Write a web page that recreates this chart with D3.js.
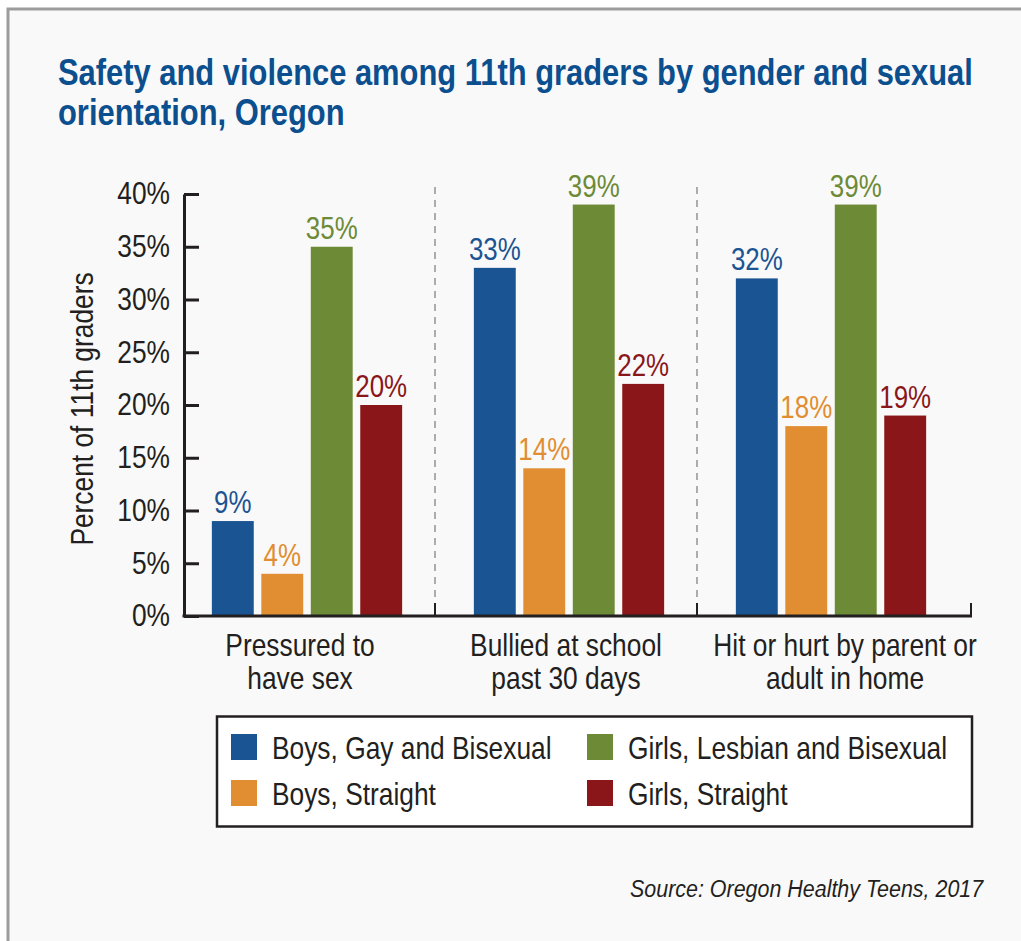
<!DOCTYPE html>
<html><head><meta charset="utf-8">
<script src="https://cdn.jsdelivr.net/npm/d3@7"></script>
<style>
html,body{margin:0;padding:0;background:#fff;}
svg{display:block;}
text{font-family:"Liberation Sans",Arial,Helvetica,sans-serif;}
</style></head>
<body>
<script>
const categories = [["Pressured to","have sex"],["Bullied at school","past 30 days"],["Hit or hurt by parent or","adult in home"]];
const seriesNames = ["Boys, Gay and Bisexual","Boys, Straight","Girls, Lesbian and Bisexual","Girls, Straight"];
const boysGayBi = [9,33,32];
const boysStraight = [4,14,18];
const girlsLesBi = [35,39,39];
const girlsStraight = [20,22,19];
const yTicks = [0,5,10,15,20,25,30,35,40];
const colors = ["#1b5492","#e08e31","#6d8a36","#8a1619"];
const title = ["Safety and violence among 11th graders by gender and sexual","orientation, Oregon"];
const yLabel = "Percent of 11th graders";
const source = "Source: Oregon Healthy Teens, 2017";

const series = [boysGayBi, boysStraight, girlsLesBi, girlsStraight];
const W = 1021, H = 941;
const SX = 0.85;          // horizontal condensing to mimic a condensed grotesque
const FS = 31;            // body font size
const axisColor = "#231f20";
const labelNudge = [-7, -3, 14];   // category label offsets relative to group centre
const svg = d3.select("body").append("svg").attr("width", W).attr("height", H);

function T(parent, x, y, str, size, opts={}) {
  const sx = opts.sx || SX;
  const t = parent.append("text")
    .attr("transform", `translate(${x},${y})${opts.rot?` rotate(${opts.rot})`:""} scale(${sx},1)`)
    .attr("font-size", size).attr("fill", opts.fill || axisColor)
    .attr("text-anchor", opts.anchor || "start").text(str);
  if (opts.weight) t.attr("font-weight", opts.weight);
  if (opts.style) t.attr("font-style", opts.style);
  return t;
}
function fit(t, x, y, target) {
  const w = t.node().getComputedTextLength();
  t.attr("transform", `translate(${x},${y}) scale(${target/w},1)`);
  return target/w;
}

// background panel and border
svg.append("rect").attr("x",7).attr("y",9).attr("width",W).attr("height",H).attr("fill","#f9f9f9");
svg.append("path").attr("d",`M8,${H} V9 H${W}`).attr("fill","none").attr("stroke","#9c9c9c").attr("stroke-width",3);

// title
const tg = svg.append("g");
const t1 = T(tg, 58, 84.5, title[0], 36.5, {fill:"#0c4f8f", weight:"bold"});
const tsx = fit(t1, 58, 84.5, 915);
T(tg, 58, 125, title[1], 36.5, {fill:"#0c4f8f", weight:"bold", sx:tsx});

// scales
const catIdx = d3.range(categories.length);
const x0 = d3.scaleBand().domain(catIdx).range([176,962]).paddingInner(0).paddingOuter(0);
const x1 = d3.scaleBand().domain(d3.range(4)).range([0,x0.bandwidth()]).paddingInner(0.153).paddingOuter(0.725);
const y = d3.scaleLinear().domain([0,40]).range([616,194]);

// dashed dividers
catIdx.slice(1).forEach(i=>{
  svg.append("line").attr("x1",x0(i)-3).attr("x2",x0(i)-3).attr("y1",187).attr("y2",605)
    .attr("stroke","#9a9a9a").attr("stroke-width",1.6).attr("stroke-dasharray","7,6");
});

// bars
const groups = svg.selectAll("g.grp").data(catIdx).join("g").attr("class","grp")
  .attr("transform",i=>`translate(${x0(i)},0)`);
groups.selectAll("rect").data(i=>series.map((s,k)=>({k,v:s[i]}))).join("rect")
  .attr("x",d=>x1(d.k)).attr("width",x1.bandwidth())
  .attr("y",d=>y(d.v)).attr("height",d=>y(0)-y(d.v)).attr("fill",d=>colors[d.k]);
groups.each(function(i){
  const g = d3.select(this);
  series.forEach((s,k)=>{
    T(g, x1(k)+x1.bandwidth()/2, y(s[i])-8, s[i]+"%", 30.5, {fill:colors[k], anchor:"middle"});
  });
});

// y axis
const yAxis = d3.axisLeft(y).tickValues(yTicks).tickFormat(d=>d+"%").tickSize(-15).tickSizeOuter(0).tickPadding(14);
const ya = svg.append("g").attr("transform","translate(184,0)").call(yAxis);
ya.select(".domain").attr("stroke",axisColor).attr("stroke-width",3);
ya.selectAll(".tick line").attr("stroke",axisColor).attr("stroke-width",3);
ya.selectAll(".tick text").attr("x",0).attr("transform",`translate(-14,0) scale(${SX},1)`)
  .attr("font-size",FS).attr("fill",axisColor)
  .attr("font-family",'"Liberation Sans",Arial,sans-serif');

// x axis line with divider ticks
const xEnd = x0.range()[1] + 10;
const xa = svg.append("g");
xa.append("line").attr("x1",182.5).attr("x2",xEnd).attr("y1",616).attr("y2",616)
  .attr("stroke",axisColor).attr("stroke-width",3);
catIdx.slice(1).forEach(i=>{
  xa.append("line").attr("x1",x0(i)-3).attr("x2",x0(i)-3).attr("y1",617).attr("y2",603)
    .attr("stroke",axisColor).attr("stroke-width",2);
});
xa.append("line").attr("x1",xEnd-1).attr("x2",xEnd-1).attr("y1",617).attr("y2",603)
  .attr("stroke",axisColor).attr("stroke-width",2);

// category labels
categories.forEach((lines,i)=>{
  lines.forEach((l,j)=>{
    T(svg, x0(i)+x0.bandwidth()/2+labelNudge[i], 656+j*32.5, l, FS, {anchor:"middle"});
  });
});

// y label
T(svg, 93, 409, yLabel, FS, {anchor:"middle", rot:-90});

// legend
svg.append("rect").attr("x",217).attr("y",716.5).attr("width",755).attr("height",110)
  .attr("fill","#fff").attr("stroke",axisColor).attr("stroke-width",2.5);
const legPos = [[231,734],[231,780],[587,734],[587,780]];
seriesNames.forEach((n,k)=>{
  svg.append("rect").attr("x",legPos[k][0]).attr("y",legPos[k][1]).attr("width",26).attr("height",26).attr("fill",colors[k]);
  T(svg, legPos[k][0]+41, legPos[k][1]+25, n, FS);
});

// source
const st = T(svg, 630, 897, source, 24.5, {style:"italic"});
{
  const w = st.node().getComputedTextLength();
  st.attr("transform",`translate(630,897) scale(${353/w},1)`);
}
</script>
</body></html>
